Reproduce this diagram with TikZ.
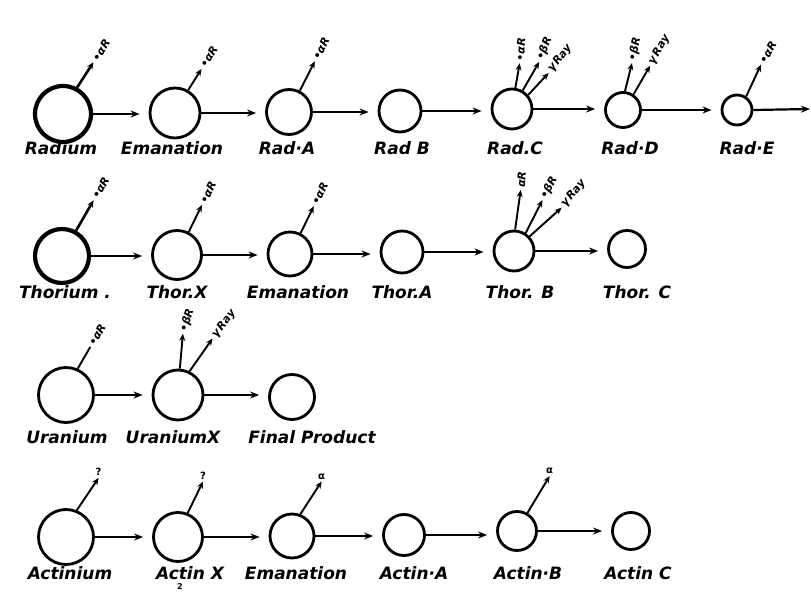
\documentclass[tikz,border=0pt]{standalone}
\usepackage{fontspec}
\setmainfont{DejaVu Sans}
\usetikzlibrary{arrows.meta}

\begin{document}
\begin{tikzpicture}[x=1pt, y=1pt,
    atom/.style={circle, draw, line width=2.8pt, inner sep=0pt, minimum size=#1pt},
    parent/.style={atom=#1, line width=4.2pt},
    decay/.style={-{Stealth[length=9pt, width=7pt]}, line width=2.2pt, shorten >=9pt},
    ray/.style={-{Stealth[length=7pt, width=6pt]}, line width=1.9pt},
    raytag/.style={anchor=west, inner sep=1.5pt, font=\bfseries\itshape\fontsize{11}{11}\selectfont},
    qtag/.style={anchor=south, inner sep=1pt, font=\bfseries\fontsize{10}{10}\selectfont},
    elname/.style={inner sep=0pt, font=\bfseries\itshape\fontsize{17}{17}\selectfont}]

    \useasboundingbox (0,0) rectangle (811,592);

    % Radium series
    \node[parent=56] (Ra) at (63,478) {};
    \foreach \n/\x/\y/\sz in {RaEm/175/479/50, RaA/289/480/45, RaB/400/481/42,
                              RaC/512/483/40, RaD/623/482/35, RaE/737/482/30}
        \node[atom=\sz] (\n) at (\x,\y) {};
    \foreach \n/\x/\t in {RaL/61/Radium, RaEmL/172/Emanation, RaAL/287/Rad·A, RaBL/402/Rad B,
                          RaCL/515/Rad.C, RaDL/630/Rad·D, RaEL/747/Rad·E}
        \node[elname] (\n) at (\x,444) {\t};

    % Thorium series
    \node[parent=54] (Th) at (62,336) {};
    \foreach \n/\x/\y/\sz in {ThX/177/337/49, ThEm/290/338/44, ThA/402/340/42,
                              ThB/514/341/40, ThC/627/343/37}
        \node[atom=\sz] (\n) at (\x,\y) {};
    \foreach \n/\x/\t in {ThL/65/Thorium ., ThXL/177/Thor.X, ThEmL/298/Emanation,
                          ThAL/402/Thor.A, ThBL/520/Thor. B, ThCL/637/Thor. C}
        \node[elname] (\n) at (\x,300) {\t};

    % Uranium series
    \foreach \n/\x/\y/\sz in {U/66/197/55, UX/178/197/50, UF/292/195/45}
        \node[atom=\sz] (\n) at (\x,\y) {};
    \foreach \n/\x/\t in {UL/67/Uranium, UXL/173/UraniumX, UFL/312/Final Product}
        \node[elname] (\n) at (\x,155) {\t};

    % Actinium series
    \foreach \n/\x/\y/\sz in {Ac/66/55/55, AcX/178/55/49, AcEm/292/56/44,
                              AcA/404/57/41, AcB/517/61/39, AcC/631/61/37}
        \node[atom=\sz] (\n) at (\x,\y) {};
    \foreach \n/\x/\t in {AcL/70/Actinium, AcXL/190/Actin X, AcEmL/296/Emanation,
                          AcAL/414/Actin·A, AcBL/528/Actin·B, AcCL/638/Actin C}
        \node[elname] (\n) at (\x,19) {\t};
    \node[qtag, anchor=center, font=\bfseries\fontsize{8}{8}\selectfont] (AcXsub) at (180,5) {2};

    % decay arrows
    \foreach \a/\b in {Ra/RaEm, RaEm/RaA, RaA/RaB, RaB/RaC, RaC/RaD, RaD/RaE,
                       Th/ThX, ThX/ThEm, ThEm/ThA, ThA/ThB, ThB/ThC,
                       U/UX, UX/UF,
                       Ac/AcX, AcX/AcEm, AcEm/AcA, AcA/AcB, AcB/AcC}
        \draw[decay] (\a.east) -- (\a.east -| \b.west);
    \coordinate (RaEout) at (810,483);
    \draw[decay, shorten >=0pt] (RaE.east) -- (RaEout);

    % emitted rays
    \draw[ray, line width=2.6pt] (Ra.62) -- ++(57:30) coordinate (Ra1) node[raytag, rotate=57] {•αR};
    \draw[ray] (RaEm.60) -- ++(58:25) coordinate (RaEm1) node[raytag, rotate=58] {•αR};
    \draw[ray] (RaA.63) -- ++(63:33) coordinate (RaA1) node[raytag, rotate=63] {•αR};
    \draw[ray] (RaC.81) -- ++(80:25) coordinate (RaC1) node[raytag, rotate=86] {•αR};
    \draw[ray] (RaC.60) -- ++(60:33) coordinate (RaC2) node[raytag, rotate=68] {•βR};
    \draw[ray] (RaC.41) -- ++(47:30) coordinate (RaC3) node[raytag, rotate=52] {γ\kern1.5pt Ray};
    \draw[ray] (RaD.84) -- ++(76:29) coordinate (RaD1) node[raytag, rotate=78] {•βR};
    \draw[ray] (RaD.56) -- ++(60:33) coordinate (RaD2) node[raytag, rotate=60] {γ\kern1.5pt Ray};
    \draw[ray] (RaE.56) -- ++(65:35) coordinate (RaE1) node[raytag, rotate=60] {•αR};

    \draw[ray, line width=2.6pt] (Th.61) -- ++(60:35) coordinate (Th1) node[raytag, rotate=60] {•αR};
    \draw[ray] (ThX.63) -- ++(64:30) coordinate (ThX1) node[raytag, rotate=64] {•αR};
    \draw[ray] (ThEm.63) -- ++(64:30) coordinate (ThEm1) node[raytag, rotate=64] {•αR};
    \draw[ray] (ThB.87) -- ++(82:40) coordinate (ThB1) node[raytag, rotate=86] {αR};
    \draw[ray] (ThB.57) -- ++(63:37) coordinate (ThB2) node[raytag, rotate=62] {•βR};
    \draw[ray] (ThB.43) -- ++(42:43) coordinate (ThB3) node[raytag, rotate=50] {γ\kern1.5pt Ray};

    \draw[line width=1.9pt] (U.66) -- ++(60:25) coordinate (U1) node[raytag, rotate=60] {•αR};
    \draw[ray] (UX.86) -- ++(85:35) coordinate (UX1) node[raytag, rotate=72] {•βR};
    \draw[ray] (UX.64) -- ++(55:40) coordinate (UX2) node[raytag, rotate=52] {γ\kern1.5pt Ray};

    \draw[ray] (Ac.68) -- ++(56:39) coordinate (Ac1) node[qtag] {?};
    \draw[ray] (AcX.68) -- ++(64:35) coordinate (AcX1) node[qtag] {?};
    \draw[ray] (AcEm.69) -- ++(57:39) coordinate (AcEm1) node[qtag] {α};
    \draw[ray] (AcB.60) -- ++(59:43) coordinate (AcB1) node[qtag] {α};
\end{tikzpicture}
\end{document}
